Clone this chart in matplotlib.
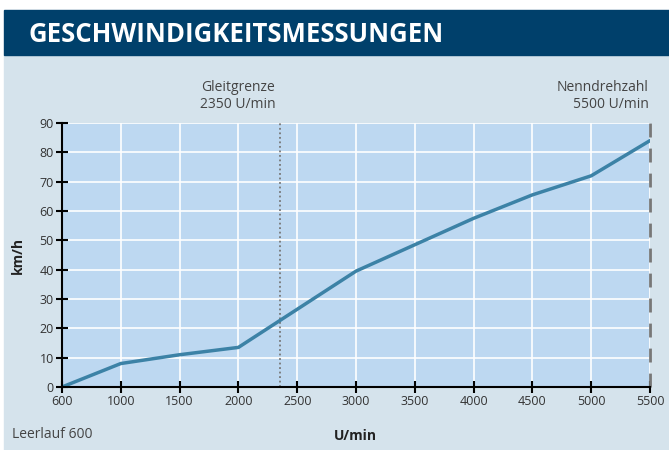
import matplotlib
matplotlib.use("Agg")
import matplotlib.pyplot as plt
import numpy as np
from matplotlib.patches import Rectangle

tick_labels = [600, 1000, 1500, 2000, 2500, 3000, 3500, 4000, 4500, 5000, 5500]
rpm = [600, 1000, 1500, 2000, 3000, 4000, 4500, 5000, 5500]
speed = [0, 8, 11, 13.5, 39.5, 57.5, 65.5, 72, 84]
glide_rpm = 2350
rated_rpm = 5500

def pos(v):
    return np.interp(v, tick_labels, np.arange(len(tick_labels)))

W, H = 669, 450
fig = plt.figure(figsize=(W/100, H/100), dpi=100)
fig.patch.set_facecolor("white")
bg = "#d5e3ec"
fig.patches.append(Rectangle((4/W, 0), 1-4/W, (H-55)/H, transform=fig.transFigure, color=bg, zorder=-5))
fig.patches.append(Rectangle((4/W, (H-55)/H), 1-4/W, 45/H, transform=fig.transFigure, color="#00406b", zorder=-5))
fig.text(28/W, 1-34/H, "GESCHWINDIGKEITSMESSUNGEN", color="white", fontsize=18.5,
         fontweight="bold", family="Open Sans", va="center", ha="left")

ax = fig.add_axes([62/W, 1-387/H, (650-62)/W, (387-123)/H])
ax.set_facecolor("#bdd8f1")
ax.plot(pos(rpm), speed, color="#3c82a6", lw=2.5, zorder=3, solid_joinstyle="miter")
ax.axvline(pos(glide_rpm), color="#777777", ls=(0, (1, 1.5)), lw=1.3, zorder=2)
ax.axvline(pos(rated_rpm), color="#777777", ls=(0, (5, 4)), lw=2, zorder=2, clip_on=False)

ax.set_xlim(0, len(tick_labels)-1)
ax.set_ylim(0, 90)
ax.set_xticks(np.arange(len(tick_labels)))
ax.set_xticklabels([str(t) for t in tick_labels])
ax.set_yticks(np.arange(0, 91, 10))
ax.grid(True, color="white", lw=1.2, zorder=1)
ax.set_axisbelow(True)
for s in ["top", "right"]:
    ax.spines[s].set_visible(False)
for s in ["left", "bottom"]:
    ax.spines[s].set_linewidth(1.5)
    ax.spines[s].set_zorder(4)
ax.tick_params(direction="inout", length=8, width=1.5, labelsize=9, labelcolor="#333333", pad=2)
for lab in ax.get_xticklabels() + ax.get_yticklabels():
    lab.set_family("Open Sans")

fig.text(18/W, 1-255/H, "km/h", rotation=90, fontsize=10, fontweight="bold", family="Open Sans",
         ha="center", va="center", color="#222222")
fig.text(355/W, 1-436/H, "U/min", fontsize=10, fontweight="bold", family="Open Sans",
         ha="center", va="center", color="#222222")
fig.text(12/W, 1-434/H, "Leerlauf 600", fontsize=10, family="Open Sans",
         ha="left", va="center", color="#444444")
fig.text(238/W, 1-96/H, "Gleitgrenze\n2350 U/min", fontsize=10, family="Open Sans",
         ha="center", va="center", color="#444444", linespacing=1.2)
fig.text(649/W, 1-96/H, "Nenndrehzahl\n5500 U/min", fontsize=10, family="Open Sans",
         ha="right", va="center", color="#444444", linespacing=1.2, multialignment="right")

fig.savefig("out.png", dpi=100)
